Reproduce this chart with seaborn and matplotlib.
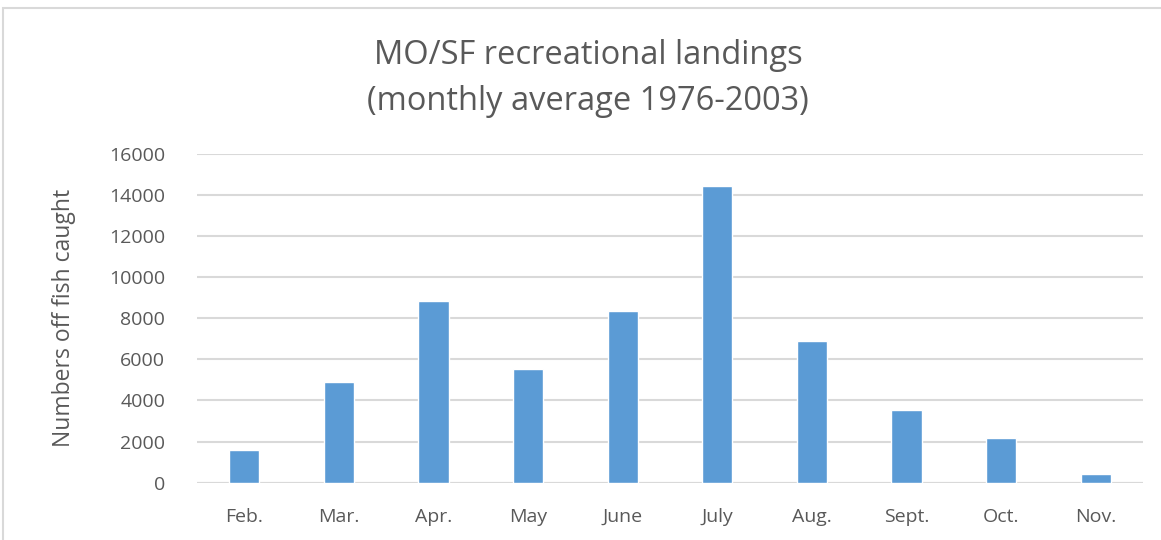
import numpy as np
import pandas as pd
import seaborn as sns
import matplotlib.pyplot as plt
from matplotlib.patches import Rectangle

# %% Data
lst_months = ['Feb.', 'Mar.', 'Apr.', 'May', 'June', 'July', 'Aug.', 'Sept.',
              'Oct.', 'Nov.']
lst_catch = [1590, 4880, 8840, 5510, 8370, 14440, 6890, 3550, 2190, 430]
lst_yticks = [0, 2000, 4000, 6000, 8000, 10000, 12000, 14000, 16000]

df = pd.DataFrame({'month': lst_months, 'catch': lst_catch})

# %% Plot
sns.set_style('white')
plt.rcParams['font.family'] = ['Open Sans', 'DejaVu Sans']
str_txt = '#595959'

fig = plt.figure(figsize=(11.61, 5.4), dpi=100)
ax = fig.add_axes([0.1697, 0.1061, 0.9845 - 0.1697, 0.7157 - 0.1061])

sns.barplot(data=df, x='month', y='catch', color='#5B9BD5', width=0.32,
            saturation=1, ax=ax)

ax.set_ylim(0, 16000)
ax.set_yticks(lst_yticks)
ax.set_yticklabels([str(v) for v in lst_yticks])
ax.yaxis.grid(True, color='#D9D9D9', linewidth=1.5)
ax.set_axisbelow(True)
for side in ['top', 'right', 'left', 'bottom']:
    ax.spines[side].set_visible(False)
ax.axhline(0, color='#D9D9D9', linewidth=1.5, zorder=0)
ax.tick_params(axis='both', length=0, labelsize=14, colors=str_txt)
ax.tick_params(axis='y', pad=23)
ax.tick_params(axis='x', pad=18)
ax.set_xlabel('')
ax.set_ylabel('Numbers off fish caught', fontsize=16.5, color=str_txt,
              labelpad=24)

fig.text(0.5065, 0.897, 'MO/SF recreational landings', ha='center',
         va='center', fontsize=23.5, color=str_txt)
fig.text(0.5065, 0.812, '(monthly average 1976-2003)', ha='center',
         va='center', fontsize=23.5, color=str_txt)

# light chart frame (cropped at right and bottom)
fig.patches.append(Rectangle((3 / 1161, -0.1), 1.2, 1.1 - 8 / 540,
                             transform=fig.transFigure, fill=False,
                             edgecolor='#D9D9D9', linewidth=1.5))

fig.savefig('out.png', dpi=100)
